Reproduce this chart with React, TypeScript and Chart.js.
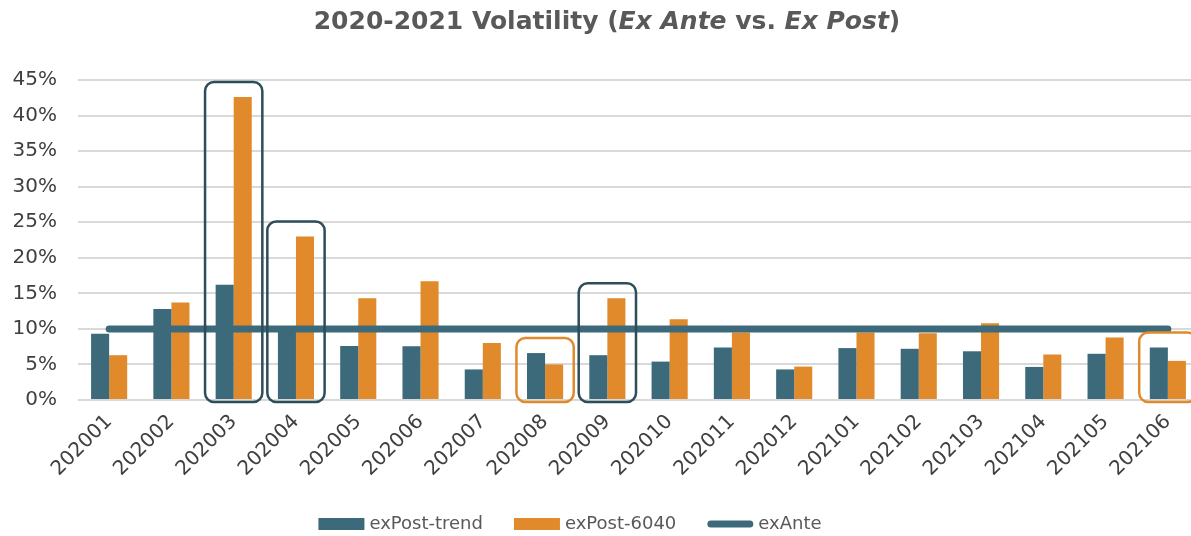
import { useEffect, useRef } from 'react';
import { Chart, registerables } from 'chart.js';

Chart.register(...registerables);

const categories = ['202001', '202002', '202003', '202004', '202005', '202006', '202007', '202008', '202009', '202010', '202011', '202012', '202101', '202102', '202103', '202104', '202105', '202106'];
const exPostTrend = [9.3, 12.8, 16.2, 10.3, 7.6, 7.55, 4.3, 6.6, 6.3, 5.4, 7.4, 4.3, 7.3, 7.2, 6.85, 4.65, 6.5, 7.4];
const exPost6040 = [6.3, 13.7, 42.6, 23.0, 14.3, 16.7, 8.0, 5.0, 14.3, 11.35, 9.5, 4.7, 9.5, 9.4, 10.8, 6.4, 8.8, 5.5];
const exAnte = [10, 10, 10, 10, 10, 10, 10, 10, 10, 10, 10, 10, 10, 10, 10, 10, 10, 10];
const seriesNames = ['exPost-trend', 'exPost-6040', 'exAnte'];
const yMin = 0;
const yMax = 45;
const yStep = 5;
const highlightCategories = ['202003', '202004', '202008', '202009', '202106'];
const highlightKinds = ['dark', 'dark', 'orange', 'dark', 'orange'];
const titleParts = [
  { text: '2020-2021 Volatility (', italic: false },
  { text: 'Ex Ante', italic: true },
  { text: ' vs. ', italic: false },
  { text: 'Ex Post', italic: true },
  { text: ')', italic: false },
];

const DARK = '#3c6a7a';
const ORANGE = '#e08a2c';
const BOX_DARK = '#2c4d59';
const TEXT = '#404040';
const LEGEND_TEXT = '#595959';
const FONT = "'DejaVu Sans', Verdana, sans-serif";

const highlightPlugin = {
  id: 'highlights',
  afterDatasetsDraw(chart: any) {
    const ctx = chart.ctx;
    const x = chart.scales.x;
    const y = chart.scales.y;
    const catW = x.width / categories.length;
    ctx.save();
    highlightCategories.forEach((cat, i) => {
      const idx = categories.indexOf(cat);
      if (idx < 0) return;
      const cx = x.getPixelForValue(idx);
      const maxV = Math.max(exPostTrend[idx], exPost6040[idx]);
      const top = y.getPixelForValue(maxV) - 15;
      const bottom = y.getPixelForValue(0) + 2;
      const left = cx - catW * 0.46;
      const w = catW * 0.92;
      ctx.beginPath();
      ctx.lineWidth = 2.5;
      ctx.strokeStyle = highlightKinds[i] === 'dark' ? BOX_DARK : ORANGE;
      ctx.roundRect(left, top, w, bottom - top, 9);
      ctx.stroke();
    });
    ctx.restore();
  },
};

const titlePlugin = {
  id: 'mixedTitle',
  afterDraw(chart: any) {
    const ctx = chart.ctx;
    ctx.save();
    ctx.fillStyle = '#595959';
    ctx.textBaseline = 'alphabetic';
    const fontFor = (italic: boolean) => `${italic ? 'italic ' : ''}bold 25px ${FONT}`;
    let total = 0;
    titleParts.forEach((p) => {
      ctx.font = fontFor(p.italic);
      total += ctx.measureText(p.text).width;
    });
    let xPos = 607 - total / 2;
    titleParts.forEach((p) => {
      ctx.font = fontFor(p.italic);
      ctx.fillText(p.text, xPos, 29);
      xPos += ctx.measureText(p.text).width;
    });
    ctx.restore();
  },
};

const legendPlugin = {
  id: 'customLegend',
  afterDraw(chart: any) {
    const ctx = chart.ctx;
    const items = [
      { text: seriesNames[0], color: DARK, kind: 'box' },
      { text: seriesNames[1], color: ORANGE, kind: 'box' },
      { text: seriesNames[2], color: DARK, kind: 'line' },
    ];
    const boxW = 46;
    const boxH = 12;
    const textGap = 5;
    const itemGap = 31;
    const cy = 524;
    ctx.save();
    ctx.font = `18px ${FONT}`;
    const widths = items.map((it) => boxW + textGap + ctx.measureText(it.text).width);
    const total = widths.reduce((a, b) => a + b, 0) + itemGap * (items.length - 1);
    let xPos = 570 - total / 2;
    items.forEach((it, i) => {
      if (it.kind === 'box') {
        ctx.fillStyle = it.color;
        ctx.fillRect(xPos, cy - boxH / 2, boxW, boxH);
      } else {
        ctx.beginPath();
        ctx.strokeStyle = it.color;
        ctx.lineWidth = 7;
        ctx.lineCap = 'round';
        ctx.moveTo(xPos + 3.5, cy);
        ctx.lineTo(xPos + boxW - 3.5, cy);
        ctx.stroke();
      }
      ctx.fillStyle = LEGEND_TEXT;
      ctx.textBaseline = 'middle';
      ctx.textAlign = 'left';
      ctx.fillText(it.text, xPos + boxW + textGap, cy);
      xPos += widths[i] + itemGap;
    });
    ctx.restore();
  },
};

export default function App() {
  const ref = useRef<HTMLCanvasElement>(null);
  useEffect(() => {
    if (!ref.current) return;
    const chart = new Chart(ref.current, {
      type: 'bar',
      data: {
        labels: categories,
        datasets: [
          {
            type: 'bar',
            label: seriesNames[0],
            data: exPostTrend,
            backgroundColor: DARK,
            borderWidth: 0,
            categoryPercentage: 0.58,
            barPercentage: 1,
            order: 2,
          },
          {
            type: 'bar',
            label: seriesNames[1],
            data: exPost6040,
            backgroundColor: ORANGE,
            borderWidth: 0,
            categoryPercentage: 0.58,
            barPercentage: 1,
            order: 2,
          },
          {
            type: 'line',
            label: seriesNames[2],
            data: exAnte,
            borderColor: DARK,
            backgroundColor: DARK,
            borderWidth: 7,
            borderCapStyle: 'round',
            pointRadius: 0,
            fill: false,
            order: 0,
          } as any,
        ],
      },
      options: {
        responsive: false,
        animation: false,
        devicePixelRatio: 1,
        layout: { padding: { top: 80, right: 11, left: 0, bottom: 59 } },
        plugins: {
          title: { display: false },
          tooltip: { enabled: false },
          legend: { display: false },
        },
        scales: {
          x: {
            offset: true,
            grid: { display: false },
            border: { display: false },
            ticks: {
              minRotation: 45,
              maxRotation: 45,
              autoSkip: false,
              padding: 2,
              font: { family: FONT, size: 20 },
              color: TEXT,
            },
            afterFit: (s: any) => {
              s.height = 77;
            },
          },
          y: {
            min: yMin,
            max: yMax,
            grid: { color: '#d9d9d9', lineWidth: 2, drawTicks: false },
            border: { display: false },
            ticks: {
              stepSize: yStep,
              padding: 21,
              font: { family: FONT, size: 20 },
              color: TEXT,
              callback: (v: any) => `${v}%`,
            },
            afterFit: (s: any) => {
              s.width = 78;
            },
          },
        },
      },
      plugins: [highlightPlugin, titlePlugin, legendPlugin],
    });
    return () => chart.destroy();
  }, []);

  return (
    <div style={{ position: 'fixed', left: 0, top: 0, width: 1191, height: 536, overflow: 'hidden', background: '#fff' }}>
      <canvas ref={ref} width={1210} height={536} style={{ width: 1210, height: 536, display: 'block' }} />
    </div>
  );
}
